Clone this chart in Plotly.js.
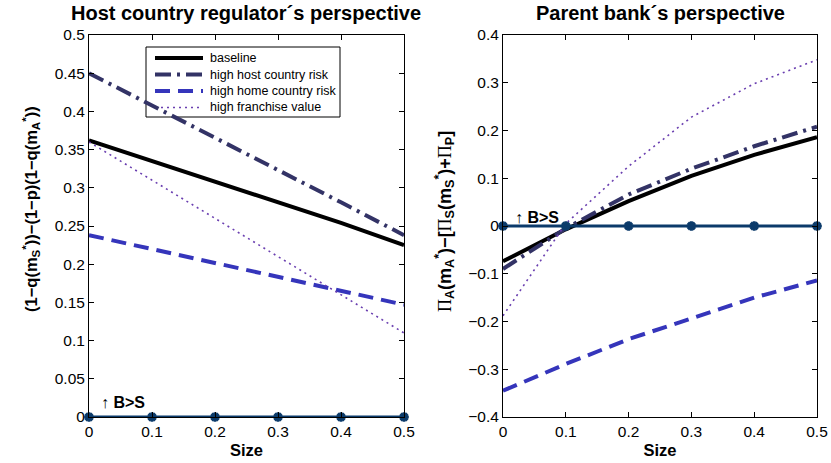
<!DOCTYPE html>
<html>
<head>
<meta charset="utf-8">
<script src="https://cdn.plot.ly/plotly-3.0.1.min.js"></script>
<style>html,body{margin:0;padding:0;background:#fff;}#chart{width:831px;height:463px;}</style>
</head>
<body>
<div id="chart"></div>
<script>
// Data
var size = [0, 0.1, 0.2, 0.3, 0.4, 0.5];
var seriesNames = ["baseline", "high host country risk", "high home country risk", "high franchise value"];

// Left panel: host country regulator's perspective
var hostBaseline  = [0.362, 0.335, 0.309, 0.282, 0.254, 0.225];
var hostHighHost  = [0.450, 0.408, 0.366, 0.324, 0.281, 0.238];
var hostHighHome  = [0.238, 0.220, 0.202, 0.183, 0.165, 0.147];
var hostFranchise = [0.360, 0.310, 0.260, 0.210, 0.160, 0.110];

// Right panel: parent bank's perspective
var parBaseline  = [-0.074, -0.007, 0.052, 0.105, 0.149, 0.186];
var parHighHost  = [-0.090, -0.005, 0.066, 0.120, 0.167, 0.208];
var parHighHome  = [-0.345, -0.289, -0.237, -0.193, -0.150, -0.114];
var parFranchise = [-0.188, 0.005, 0.125, 0.228, 0.298, 0.348];

// B>S threshold line
var threshold = [0, 0, 0, 0, 0, 0];

var xTicks = [0, 0.1, 0.2, 0.3, 0.4, 0.5];
var xTickText = ["0", "0.1", "0.2", "0.3", "0.4", "0.5"];
var yTicksLeft = [0, 0.05, 0.1, 0.15, 0.2, 0.25, 0.3, 0.35, 0.4, 0.45, 0.5];
var yTickTextLeft = ["0", "0.05", "0.1", "0.15", "0.2", "0.25", "0.3", "0.35", "0.4", "0.45", "0.5"];
var yTicksRight = [-0.4, -0.3, -0.2, -0.1, 0, 0.1, 0.2, 0.3, 0.4];
var yTickTextRight = ["−0.4", "−0.3", "−0.2", "−0.1", "0", "0.1", "0.2", "0.3", "0.4"];

var styles = [
  {color: "#000000", width: 4, dash: "solid"},
  {color: "#333366", width: 4, dash: "16px,6px,3px,6px"},
  {color: "#3535bb", width: 4, dash: "15px,8px"},
  {color: "#6a3fb0", width: 1.6, dash: "2px,4px"}
];

var hostData = [hostBaseline, hostHighHost, hostHighHome, hostFranchise];
var parData = [parBaseline, parHighHost, parHighHome, parFranchise];

var traces = [];
for (var i = 0; i < 4; i++) {
  traces.push({x: size, y: hostData[i], type: "scatter", mode: "lines", name: seriesNames[i],
    line: styles[i], xaxis: "x", yaxis: "y", showlegend: false});
}
for (var i = 0; i < 4; i++) {
  traces.push({x: size, y: parData[i], type: "scatter", mode: "lines", name: seriesNames[i],
    line: styles[i], xaxis: "x2", yaxis: "y2", showlegend: false});
}
var thrColor = "#0b3a6a";
var thrMarker = {symbol: "asterisk-open", size: 8, color: thrColor, line: {color: thrColor, width: 3}};
traces.push({x: size, y: threshold, type: "scatter", mode: "lines+markers", showlegend: false,
  line: {color: thrColor, width: 3}, marker: thrMarker, xaxis: "x", yaxis: "y", cliponaxis: false});
traces.push({x: size, y: threshold, type: "scatter", mode: "lines+markers", showlegend: false,
  line: {color: thrColor, width: 3}, marker: thrMarker, xaxis: "x2", yaxis: "y2", cliponaxis: false});

var axCommon = {
  showline: true, linecolor: "#000", linewidth: 1, mirror: "ticks",
  ticks: "inside", ticklen: 5, tickcolor: "#000", showgrid: false, zeroline: false,
  tickfont: {size: 15.5, color: "#000"}
};
function merge(a, b) { var o = {}; for (var k in a) o[k] = a[k]; for (var k in b) o[k] = b[k]; return o; }

var W = 831, H = 463;
function px(x) { return x / W; }
function py(y) { return 1 - y / H; }

var yDomain = [46/H, 428/H];
var P = "<span style=\"font-family:'Liberation Serif';font-weight:normal\">Π</span>";

// Legend drawn inside the left panel (box, samples, labels)
var legBox = {x0: 146, x1: 340, y0: 47, y1: 117};
var legRows = [58, 74.5, 91, 107.5];
var shapes = [{type: "rect", xref: "paper", yref: "paper", x0: px(legBox.x0), x1: px(legBox.x1),
  y0: py(legBox.y1), y1: py(legBox.y0), line: {color: "#000", width: 1}, fillcolor: "#fff", layer: "below"}];
var annotations = [];
for (var i = 0; i < 4; i++) {
  shapes.push({type: "line", xref: "paper", yref: "paper", x0: px(155), x1: px(203),
    y0: py(legRows[i]), y1: py(legRows[i]), line: styles[i], layer: "below"});
  annotations.push({text: seriesNames[i], xref: "paper", yref: "paper", x: px(208), y: py(legRows[i]),
    xanchor: "left", yanchor: "middle", showarrow: false, font: {size: 12.5, color: "#000"}});
}

annotations = annotations.concat([
  {text: "<b>Host country regulator´s perspective</b>", xref: "paper", yref: "paper",
    x: px((89 + 404) / 2), y: py(13), xanchor: "center", yanchor: "middle", showarrow: false,
    font: {size: 20, color: "#000"}},
  {text: "<b>Parent bank´s perspective</b>", xref: "paper", yref: "paper",
    x: px((503 + 817) / 2), y: py(13), xanchor: "center", yanchor: "middle", showarrow: false,
    font: {size: 20, color: "#000"}},
  {text: "<b>(1−q(m<sub>S</sub><sup>*</sup>))−(1−p)(1−q(m<sub>A</sub><sup>*</sup>))</b>", xref: "paper", yref: "paper",
    x: px(31), y: py(209), xanchor: "center", yanchor: "middle", textangle: -90, showarrow: false,
    font: {size: 16.5, color: "#000"}},
  {text: P + "<b><sub>A</sub>(m<sub>A</sub><sup>*</sup>)−[</b>" + P + "<b><sub>S</sub>(m<sub>S</sub><sup>*</sup>)+</b>" + P + "<b><sub>P</sub>]</b>",
    xref: "paper", yref: "paper", x: px(445), y: py(222), xanchor: "center", yanchor: "middle",
    textangle: -90, showarrow: false, font: {size: 18, color: "#000"}},
  {text: "↑ <b>B>S</b>", xref: "x", yref: "y", x: 0.016, y: 0.019, xanchor: "left", yanchor: "middle",
    showarrow: false, font: {size: 16, color: "#000"}},
  {text: "↑ <b>B>S</b>", xref: "x2", yref: "y2", x: 0.016, y: 0.018, xanchor: "left", yanchor: "middle",
    showarrow: false, font: {size: 16, color: "#000"}}
]);

var layout = {
  width: W, height: H,
  margin: {l: 0, r: 0, t: 0, b: 0},
  paper_bgcolor: "#fff", plot_bgcolor: "rgba(0,0,0,0)",
  font: {family: "Liberation Sans, Arial, sans-serif", color: "#000"},
  showlegend: false,
  xaxis: merge(axCommon, {domain: [89/W, 404/W], range: [0, 0.5], tickvals: xTicks, ticktext: xTickText,
    anchor: "y", title: {text: "<b>Size</b>", font: {size: 16.5}, standoff: 5}}),
  yaxis: merge(axCommon, {domain: yDomain, range: [0, 0.5], anchor: "x",
    tickvals: yTicksLeft, ticktext: yTickTextLeft}),
  xaxis2: merge(axCommon, {domain: [503/W, 817/W], range: [0, 0.5], anchor: "y2",
    tickvals: xTicks, ticktext: xTickText, title: {text: "<b>Size</b>", font: {size: 16.5}, standoff: 5}}),
  yaxis2: merge(axCommon, {domain: yDomain, range: [-0.4, 0.4], anchor: "x2",
    tickvals: yTicksRight, ticktext: yTickTextRight}),
  shapes: shapes,
  annotations: annotations
};

Plotly.newPlot("chart", traces, layout, {displayModeBar: false, staticPlot: true});
</script>
</body>
</html>
